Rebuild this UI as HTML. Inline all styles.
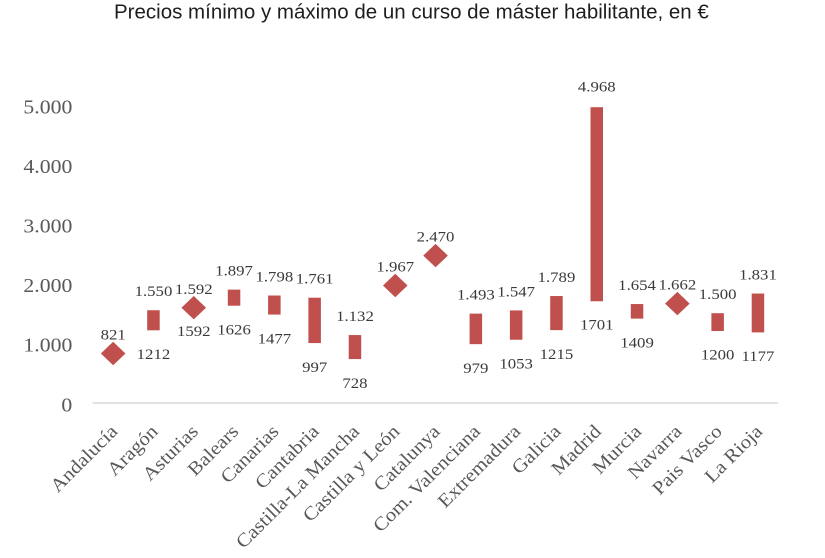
<!DOCTYPE html>
<html><head><meta charset="utf-8"><style>
html,body{margin:0;padding:0;background:#fff;}
svg{display:block;}
.t{font-family:"Liberation Sans",Arial,sans-serif;font-size:20.5px;fill:#1e1e1e;}
.ax{font-family:"Liberation Serif",serif;font-size:20.5px;fill:#595959;}
.dl{font-family:"Liberation Serif",serif;font-size:15px;fill:#3a3a3a;}
.cl{font-family:"Liberation Serif",serif;font-size:19px;fill:#595959;}
</style></head><body>
<svg width="825" height="558" viewBox="0 0 825 558" xmlns="http://www.w3.org/2000/svg">
<rect width="825" height="558" fill="#fff"/>
<text class="t" x="114" y="18.5">Precios mínimo y máximo de un curso de máster habilitante, en €</text>

<!-- y axis labels -->
<g class="ax" text-anchor="end">
<text transform="translate(72.3,411.3) scale(1.06,1)">0</text>
<text transform="translate(72.3,351.7) scale(1.06,1)">1.000</text>
<text transform="translate(72.3,292.1) scale(1.06,1)">2.000</text>
<text transform="translate(72.3,232.5) scale(1.06,1)">3.000</text>
<text transform="translate(72.3,172.9) scale(1.06,1)">4.000</text>
<text transform="translate(72.3,113.3) scale(1.06,1)">5.000</text>
</g>

<line x1="92.5" y1="403" x2="778" y2="403" stroke="#d9d9d9" stroke-width="1.5"/>

<g fill="#c0504d">
<polygon points="113.15,341.8 125.45,353.53 113.15,365.2 100.85,353.53"/>
<rect x="147.2" y="310.23" width="12.5" height="20.08"/>
<polygon points="193.75,296.0 206.05,307.74 193.75,319.4 181.45,307.74"/>
<rect x="227.8" y="289.62" width="12.5" height="16.1"/>
<rect x="268.1" y="295.5" width="12.5" height="19.07"/>
<rect x="308.4" y="297.7" width="12.5" height="45.38"/>
<rect x="348.7" y="335.06" width="12.5" height="24.0"/>
<polygon points="395.25,273.8 407.55,285.46 395.25,297.2 382.95,285.46"/>
<polygon points="435.55,243.9 447.85,255.58 435.55,267.3 423.25,255.58"/>
<rect x="469.6" y="313.62" width="12.5" height="30.53"/>
<rect x="509.9" y="310.41" width="12.5" height="29.34"/>
<rect x="550.2" y="296.03" width="12.5" height="34.1"/>
<rect x="590.5" y="107.2" width="12.5" height="194.06"/>
<rect x="630.8" y="304.05" width="12.5" height="14.56"/>
<polygon points="677.35,291.9 689.65,303.58 677.35,315.3 665.05,303.58"/>
<rect x="711.4" y="313.2" width="12.5" height="17.82"/>
<rect x="751.7" y="293.54" width="12.5" height="38.85"/>
</g>

<!-- data labels -->
<g class="dl" text-anchor="middle">
<text transform="translate(113.15,339.5) scale(1.12,1)">821</text>
<text transform="translate(153.45,296.2) scale(1.12,1)">1.550</text>
<text transform="translate(153.45,359.0) scale(1.12,1)">1212</text>
<text transform="translate(193.75,293.9) scale(1.12,1)">1.592</text>
<text transform="translate(193.75,335.8) scale(1.12,1)">1592</text>
<text transform="translate(234.05,275.6) scale(1.12,1)">1.897</text>
<text transform="translate(234.05,334.4) scale(1.12,1)">1626</text>
<text transform="translate(274.35,281.5) scale(1.12,1)">1.798</text>
<text transform="translate(274.35,343.3) scale(1.12,1)">1477</text>
<text transform="translate(314.65,283.7) scale(1.12,1)">1.761</text>
<text transform="translate(314.65,371.8) scale(1.12,1)">997</text>
<text transform="translate(354.95,321.1) scale(1.12,1)">1.132</text>
<text transform="translate(354.95,387.8) scale(1.12,1)">728</text>
<text transform="translate(395.25,271.5) scale(1.12,1)">1.967</text>
<text transform="translate(435.55,241.6) scale(1.12,1)">2.470</text>
<text transform="translate(475.85,299.6) scale(1.12,1)">1.493</text>
<text transform="translate(475.85,372.9) scale(1.12,1)">979</text>
<text transform="translate(516.15,296.4) scale(1.12,1)">1.547</text>
<text transform="translate(516.15,368.5) scale(1.12,1)">1053</text>
<text transform="translate(556.45,282.0) scale(1.12,1)">1.789</text>
<text transform="translate(556.45,358.8) scale(1.12,1)">1215</text>
<text transform="translate(596.75,91.7) scale(1.12,1)">4.968</text>
<text transform="translate(596.75,329.5) scale(1.12,1)">1701</text>
<text transform="translate(637.05,290.0) scale(1.12,1)">1.654</text>
<text transform="translate(637.05,347.3) scale(1.12,1)">1409</text>
<text transform="translate(677.35,289.6) scale(1.12,1)">1.662</text>
<text transform="translate(717.65,299.2) scale(1.12,1)">1.500</text>
<text transform="translate(717.65,359.7) scale(1.12,1)">1200</text>
<text transform="translate(757.95,279.5) scale(1.12,1)">1.831</text>
<text transform="translate(757.95,361.1) scale(1.12,1)">1177</text>
</g>

<!-- category labels -->
<g class="cl" text-anchor="end">
<text transform="translate(118.6,432.5) rotate(-45) scale(1.1,1)">Andalucía</text>
<text transform="translate(158.9,432.5) rotate(-45) scale(1.1,1)">Aragón</text>
<text transform="translate(199.2,432.5) rotate(-45) scale(1.1,1)">Asturias</text>
<text transform="translate(239.5,432.5) rotate(-45) scale(1.1,1)">Balears</text>
<text transform="translate(279.8,432.5) rotate(-45) scale(1.1,1)">Canarias</text>
<text transform="translate(320.1,432.5) rotate(-45) scale(1.1,1)">Cantabria</text>
<text transform="translate(360.4,432.5) rotate(-45) scale(1.1,1)">Castilla-La Mancha</text>
<text transform="translate(400.7,432.5) rotate(-45) scale(1.1,1)">Castilla y León</text>
<text transform="translate(441.0,432.5) rotate(-45) scale(1.1,1)">Catalunya</text>
<text transform="translate(481.3,432.5) rotate(-45) scale(1.1,1)">Com. Valenciana</text>
<text transform="translate(521.6,432.5) rotate(-45) scale(1.1,1)">Extremadura</text>
<text transform="translate(561.9,432.5) rotate(-45) scale(1.1,1)">Galicia</text>
<text transform="translate(602.2,432.5) rotate(-45) scale(1.1,1)">Madrid</text>
<text transform="translate(642.5,432.5) rotate(-45) scale(1.1,1)">Murcia</text>
<text transform="translate(682.8,432.5) rotate(-45) scale(1.1,1)">Navarra</text>
<text transform="translate(723.1,432.5) rotate(-45) scale(1.1,1)">Pais Vasco</text>
<text transform="translate(763.4,432.5) rotate(-45) scale(1.1,1)">La Rioja</text>
</g>
</svg>
</body></html>
